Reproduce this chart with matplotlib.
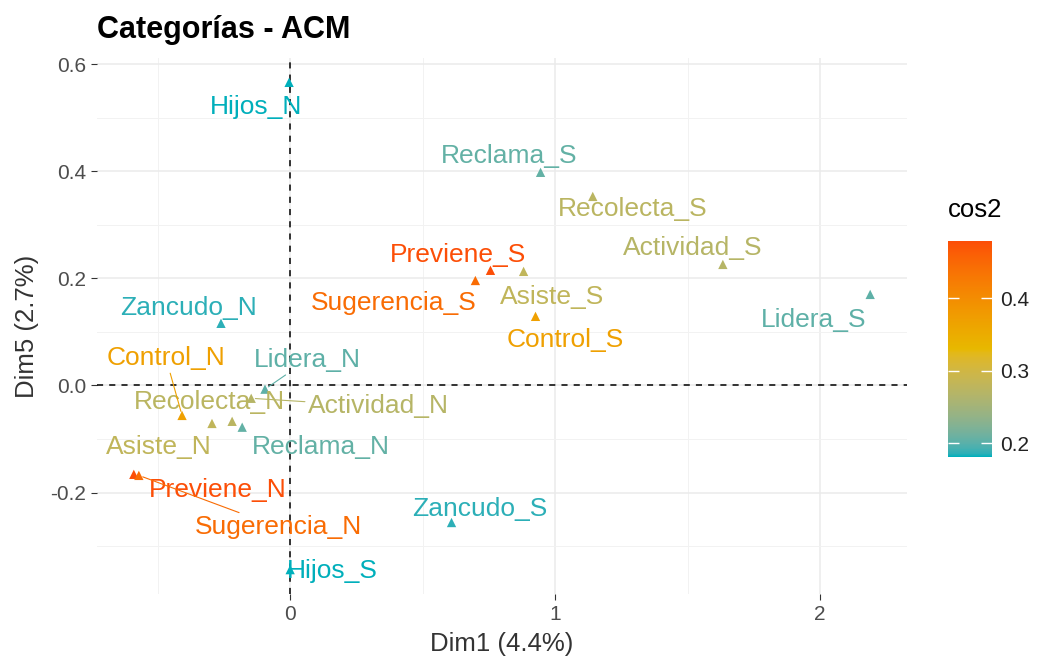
import numpy as np
import matplotlib
matplotlib.use("Agg")
import matplotlib.pyplot as plt
from matplotlib.colors import ListedColormap, Normalize, to_rgb

plt.rcParams['font.family'] = ['Liberation Sans', 'DejaVu Sans']

# ------------------------
# datos (coordenadas ACM de las categorías)
# ------------------------
categorias = ["Hijos_N", "Hijos_S", "Zancudo_N", "Zancudo_S",
              "Reclama_N", "Reclama_S", "Recolecta_N", "Recolecta_S",
              "Actividad_N", "Actividad_S", "Lidera_N", "Lidera_S",
              "Previene_N", "Previene_S", "Sugerencia_N", "Sugerencia_S",
              "Asiste_N", "Asiste_S", "Control_N", "Control_S"]
dim1 = [-0.004, 0.000, -0.261, 0.609,
        -0.181, 0.945, -0.219, 1.142,
        -0.147, 1.633, -0.095, 2.189,
        -0.590, 0.756, -0.571, 0.699,
        -0.295, 0.881, -0.408, 0.926]
dim5 = [0.566, -0.344, 0.116, -0.256,
        -0.078, 0.398, -0.067, 0.353,
        -0.024, 0.226, -0.007, 0.170,
        -0.166, 0.215, -0.168, 0.196,
        -0.071, 0.213, -0.056, 0.129]
cos2 = [0.181, 0.181, 0.186, 0.186,
        0.205, 0.205, 0.275, 0.275,
        0.270, 0.270, 0.202, 0.202,
        0.479, 0.479, 0.445, 0.445,
        0.280, 0.280, 0.370, 0.370]

# posición de las etiquetas (desplazamiento en píxeles, estilo ggrepel)
offsets = {
    "Hijos_N": (-33, -25), "Hijos_S": (42, -1),
    "Zancudo_N": (-32, 15), "Zancudo_S": (28, 14),
    "Reclama_N": (79, -20), "Reclama_S": (-31, 16),
    "Recolecta_N": (-23, 19), "Recolecta_S": (40, -13),
    "Actividad_N": (127, -8), "Actividad_S": (-30, 16),
    "Lidera_N": (42, 29), "Lidera_S": (-57, -26),
    "Previene_N": (84, -16), "Previene_S": (-32, 15),
    "Sugerencia_N": (140, -52), "Sugerencia_S": (-82, -23),
    "Asiste_N": (-53, -24), "Asiste_S": (28, -26),
    "Control_N": (-16, 57), "Control_S": (30, -24),
}
con_segmento = ["Lidera_N", "Control_N", "Actividad_N", "Sugerencia_N", "Previene_S"]


# ------------------------
# gradiente interpolado en espacio Lab (como ggplot)
# ------------------------
M = np.array([[0.4124, 0.3576, 0.1805],
              [0.2126, 0.7152, 0.0722],
              [0.0193, 0.1192, 0.9505]])
WHITE = np.array([0.95047, 1.0, 1.08883])


def rgb_to_lab(rgb):
    c = np.array(rgb)
    lin = np.where(c <= 0.04045, c / 12.92, ((c + 0.055) / 1.055) ** 2.4)
    xyz = M @ lin / WHITE
    f = np.where(xyz > 0.008856, np.cbrt(xyz), 7.787 * xyz + 16 / 116)
    return np.array([116 * f[1] - 16, 500 * (f[0] - f[1]), 200 * (f[1] - f[2])])


def lab_to_rgb(lab):
    fy = (lab[0] + 16) / 116
    fx = fy + lab[1] / 500
    fz = fy - lab[2] / 200
    f = np.array([fx, fy, fz])
    xyz = np.where(f ** 3 > 0.008856, f ** 3, (f - 16 / 116) / 7.787) * WHITE
    lin = np.linalg.solve(M, xyz)
    lin = np.clip(lin, 0, 1)
    c = np.where(lin <= 0.0031308, 12.92 * lin, 1.055 * lin ** (1 / 2.4) - 0.055)
    return np.clip(c, 0, 1)


anchors = [rgb_to_lab(to_rgb(h)) for h in ["#00AFBB", "#E7B800", "#FC4E07"]]
colores = []
for t in np.linspace(0, 1, 256):
    if t <= 0.5:
        lab = anchors[0] + (anchors[1] - anchors[0]) * (t / 0.5)
    else:
        lab = anchors[1] + (anchors[2] - anchors[1]) * ((t - 0.5) / 0.5)
    colores.append(lab_to_rgb(lab))
cmap = ListedColormap(colores)
norm = Normalize(vmin=min(cos2), vmax=max(cos2))

fig = plt.figure(figsize=(10.37, 6.64), dpi=100)
ax = fig.add_axes([97 / 1037, 1 - 594 / 664, 810 / 1037, 536 / 664])

# límites con expansión del 5% como ggplot
xr = max(dim1) - min(dim1)
yr = max(dim5) - min(dim5)
ax.set_xlim(min(dim1) - 0.05 * xr, max(dim1) + 0.05 * xr)
ax.set_ylim(min(dim5) - 0.05 * yr, max(dim5) + 0.05 * yr)

ax.set_xticks([0, 1, 2])
ax.set_yticks([-0.2, 0.0, 0.2, 0.4, 0.6])
ax.set_xticks([-0.5, 0.5, 1.5], minor=True)
ax.set_yticks([-0.3, -0.1, 0.1, 0.3, 0.5], minor=True)
ax.grid(which="major", color="#EBEBEB", linewidth=1.1)
ax.grid(which="minor", color="#F2F2F2", linewidth=0.7)
ax.set_axisbelow(True)
for s in ax.spines.values():
    s.set_visible(False)
ax.tick_params(which="major", length=4, width=0.8, color="#333333",
               labelcolor="#4D4D4D", labelsize=15, pad=4)
ax.tick_params(which="minor", length=0)
ax.set_yticklabels(["-0.2", "0.0", "0.2", "0.4", "0.6"])

ax.axhline(0, color="black", linestyle=(0, (4, 4)), linewidth=1.1, zorder=1)
ax.axvline(0, color="black", linestyle=(0, (4, 4)), linewidth=1.1, zorder=1)

ax.scatter(dim1, dim5, c=cos2, cmap=cmap, norm=norm, marker="^", s=45,
           linewidths=0, zorder=3)

for name, x, y, c in zip(categorias, dim1, dim5, cos2):
    col = cmap(norm(c))
    arrow = None
    if name in con_segmento:
        arrow = dict(arrowstyle="-", color=col, lw=0.8, shrinkA=0, shrinkB=3)
    ax.annotate(name, xy=(x, y), xytext=offsets[name], textcoords="offset pixels",
                ha="center", va="center", fontsize=19, color=col,
                arrowprops=arrow, zorder=4)

ax.set_xlabel("Dim1 (4.4%)", fontsize=18.5, color="#333333", labelpad=6)
ax.set_ylabel("Dim5 (2.7%)", fontsize=18.5, color="#333333", labelpad=8)

fig.text(97 / 1037, 1 - 30 / 664, "Categorías - ACM", fontsize=22,
         fontweight="bold", va="center", ha="left")

# barra de color
cax = fig.add_axes([948 / 1037, 1 - 457 / 664, 44 / 1037, 216 / 664])
cb = fig.colorbar(plt.cm.ScalarMappable(norm=norm, cmap=cmap), cax=cax)
cb.outline.set_visible(False)
cb.set_ticks([0.2, 0.3, 0.4])
cb.set_ticklabels(["0.2", "0.3", "0.4"])
cax.yaxis.set_ticks_position("both")
cax.tick_params(direction="in", color="white", length=8, width=1,
                labelsize=15, labelcolor="#222222", labelleft=False,
                labelright=True, pad=6)
fig.text(948 / 1037, 1 - 210 / 664, "cos2", fontsize=18.5, va="center", ha="left")

plt.savefig("out.png", dpi=100)
plt.close()
